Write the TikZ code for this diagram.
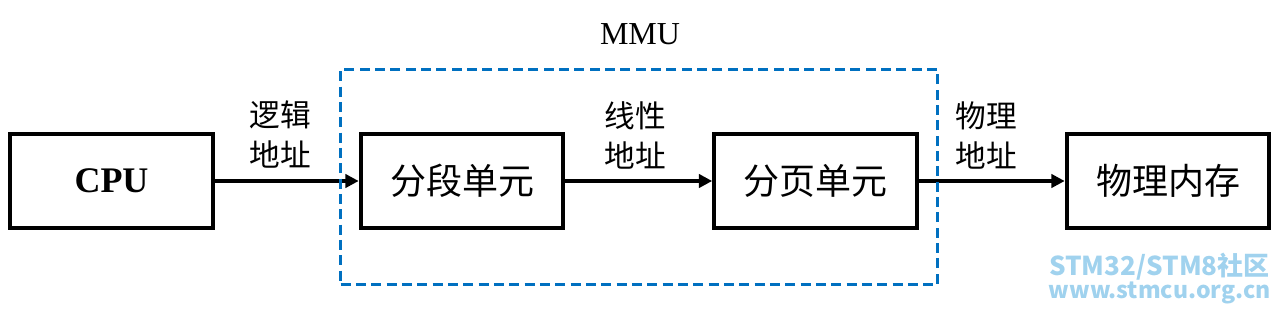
\documentclass[tikz,border=0pt]{standalone}
\usepackage{fontspec}
\setmainfont{Liberation Serif}
\newfontfamily\cjk{Noto Sans CJK SC}
\usepackage{xcolor}
\usepackage{tikz}
\usetikzlibrary{arrows.meta}

\definecolor{mmublue}{RGB}{0,112,192}
\definecolor{markblue}{RGB}{160,210,238}

\begin{document}
\begin{tikzpicture}[x=0.75pt,y=0.75pt,
    unit/.style={draw, line width=3pt, minimum width=152pt, minimum height=70.5pt,
                 inner sep=0pt, font=\cjk\fontsize{27}{30}\selectfont},
    addr/.style={font=\cjk\fontsize{23}{30}\selectfont, align=center},
    flow/.style={line width=2.4pt, -{Triangle[length=10pt,width=10pt]}},
    wmark/.style={anchor=base east, inner sep=0pt, text=markblue}]
    \useasboundingbox (0,0) rectangle (1280,312);
    % Units
    \node[unit, font=\bfseries\fontsize{27}{30}\selectfont] (cpu) at (111.5,131) {CPU};
    \node[unit] (seg) at (462,131) {分段单元};
    \node[unit] (page) at (815.5,131) {分页单元};
    \node[unit] (mem) at (1168,131) {物理内存};
    % Address flow
    \draw[flow] (cpu) -- (seg);
    \draw[flow] (seg) -- (page);
    \draw[flow] (page) -- (mem);
    \node[addr] (logic) at (280,178) {逻辑\\地址};
    \node[addr] (linear) at (635,177) {线性\\地址};
    \node[addr] (phys) at (986,177) {物理\\地址};
    % MMU frame
    \node[draw=mmublue, line width=2.4pt, dash pattern=on 7.5pt off 4pt,
          minimum width=447.75pt, minimum height=161.25pt] (mmubox) at (639,135) {};
    \node[font=\fontsize{24}{28}\selectfont] (mmu) at (640,278) {MMU};
    % Watermark
    \node[wmark, font=\cjk\bfseries\fontsize{19.5}{22}\selectfont]
      (mark1) at (1270,37) {STM32/STM8社区};
    \node[wmark, font=\cjk\bfseries\fontsize{17.3}{22}\selectfont]
      (mark2) at (1271,14) {www.stmcu.org.cn};
\end{tikzpicture}
\end{document}
